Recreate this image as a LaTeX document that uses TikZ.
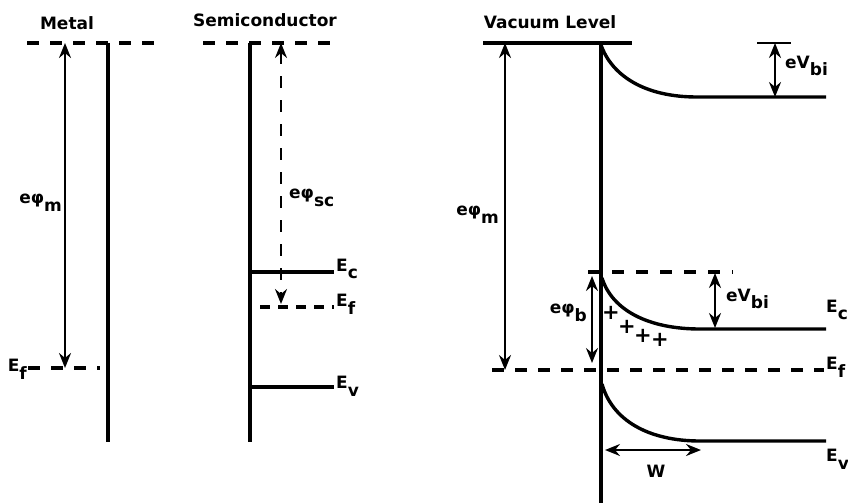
\documentclass[tikz,border=0pt]{standalone}
\usepackage{fontspec}
\setmainfont{DejaVu Sans}
\usetikzlibrary{arrows.meta}
\newcommand{\lowsub}[1]{\raisebox{-0.45em}{#1}}

\begin{document}
\begin{tikzpicture}[x=1pt, y=-1pt,
  band/.style={line width=3.4pt},
  level/.style={line width=3.4pt, dash pattern=on 12pt off 11pt},
  gap/.style={{Stealth[length=15pt,width=12pt,inset=5pt]}-{Stealth[length=15pt,width=12pt,inset=5pt]}, line width=2.3pt},
  lbl/.style={font=\fontsize{17}{20}\selectfont\bfseries, inner sep=0pt}
]
\useasboundingbox (0,0) rectangle (848,503);

% metal
\node[lbl] (mtitle) at (67,23) {Metal};
\coordinate (mvacL) at (27,43);
\coordinate (mvacR) at (155,43);
\coordinate (msurfT) at (108,43);
\coordinate (msurfB) at (108,442);
\coordinate (mefL) at (28,368);
\coordinate (mefR) at (100,368);
\coordinate (mphiT) at (65,43);
\coordinate (mphiB) at (65,368);
\draw[level] (mvacL) -- (mvacR);
\draw[band] (msurfT) -- (msurfB);
\draw[level] (mefL) -- (mefR);
\draw[gap] (mphiT) -- (mphiB);
\node[lbl, anchor=east] (mef) at (27,369) {E\lowsub{f}};
\node[lbl, anchor=east] (mphi) at (62,203) {eφ\lowsub{m}};

% semiconductor
\node[lbl] (stitle) at (265,20) {Semiconductor};
\coordinate (svacL) at (203,43);
\coordinate (svacR) at (332,43);
\coordinate (ssurfT) at (250,43);
\coordinate (ssurfB) at (250,442);
\coordinate (secL) at (250,272);
\coordinate (secR) at (334,272);
\coordinate (sefL) at (260,307);
\coordinate (sefR) at (334,307);
\coordinate (sevL) at (250,387);
\coordinate (sevR) at (334,387);
\coordinate (sphiT) at (281,43);
\coordinate (sphiB) at (281,304);
\draw[level] (svacL) -- (svacR);
\draw[band] (ssurfT) -- (ssurfB);
\draw[band] (secL) -- (secR);
\draw[level, dash pattern=on 10pt off 8pt] (sefL) -- (sefR);
\draw[band] (sevL) -- (sevR);
\draw[gap, dash pattern=on 12pt off 12pt] (sphiT) -- (sphiB);
\node[lbl, anchor=west] (sphi) at (289,198) {eφ\lowsub{sc}};
\node[lbl, anchor=west] (sec) at (336,269) {E\lowsub{c}};
\node[lbl, anchor=west] (sef) at (336,304) {E\lowsub{f}};
\node[lbl, anchor=west] (sev) at (336,386) {E\lowsub{v}};

% junction
\node[lbl] (jtitle) at (550,22) {Vacuum Level};
\coordinate (jvacL) at (483,43);
\coordinate (jvacR) at (632,43);
\coordinate (jsurfT) at (601,43);
\coordinate (jsurfB) at (601,503);
\coordinate (jefL) at (492,370);
\coordinate (jefR) at (824,370);
\draw[band] (jvacL) -- (jvacR);
\draw[band] (jsurfT) -- (jsurfB);
\draw[level] (jefL) -- (jefR);
\coordinate (jphiT) at (505,43);
\coordinate (jphiB) at (505,370);
\draw[gap] (jphiT) -- (jphiB);
\node[lbl, anchor=east] (jphi) at (499,215) {eφ\lowsub{m}};
\node[lbl, anchor=west] (jef) at (826,367) {E\lowsub{f}};

% bent vacuum level
\coordinate (vbI) at (601,45);
\coordinate (vbK) at (697,97);
\coordinate (vbR) at (826,97);
\draw[band] (vbI) .. controls (612,76) and (645,97) .. (vbK) -- (vbR);
\coordinate (vbiT) at (775,43);
\coordinate (vbiB) at (775,97);
\coordinate (tickL) at (757,43);
\coordinate (tickR) at (791,43);
\draw[line width=2.6pt] (tickL) -- (tickR);
\draw[gap] (vbiT) -- (vbiB);
\node[lbl, anchor=west] (vbi) at (785,66) {eV\lowsub{bi}};

% conduction band
\coordinate (barL) at (588,272);
\coordinate (barR) at (733,272);
\draw[level, dash pattern=on 12pt off 12pt] (barL) -- (barR);
\coordinate (ecI) at (602,278);
\coordinate (ecK) at (700,329);
\coordinate (ecR) at (826,329);
\draw[band] (ecI) .. controls (612,310) and (648,329) .. (ecK) -- (ecR);
\node[lbl, anchor=west] (jec) at (826,310) {E\lowsub{c}};
\coordinate (cbiT) at (715,273);
\coordinate (cbiB) at (715,328);
\draw[gap] (cbiT) -- (cbiB);
\node[lbl, anchor=west] (cbi) at (726,299) {eV\lowsub{bi}};
\coordinate (phibT) at (592,276);
\coordinate (phibB) at (592,363);
\draw[gap] (phibT) -- (phibB);
\node[lbl, anchor=east] (phib) at (587,313) {eφ\lowsub{b}};
\foreach \px/\py [count=\i] in {611/313, 627/327, 643/336, 660/340}
  \node[lbl, font=\fontsize{21}{21}\selectfont\bfseries] (plus\i) at (\px,\py) {+};

% valence band
\coordinate (evI) at (602,384);
\coordinate (evK) at (700,441);
\coordinate (evR) at (826,441);
\draw[band] (evI) .. controls (612,420) and (648,441) .. (evK) -- (evR);
\node[lbl, anchor=west] (jev) at (826,459) {E\lowsub{v}};
\coordinate (wL) at (605,450);
\coordinate (wR) at (701,450);
\draw[gap] (wL) -- (wR);
\node[lbl] (w) at (656,471) {W};

\end{tikzpicture}
\end{document}
